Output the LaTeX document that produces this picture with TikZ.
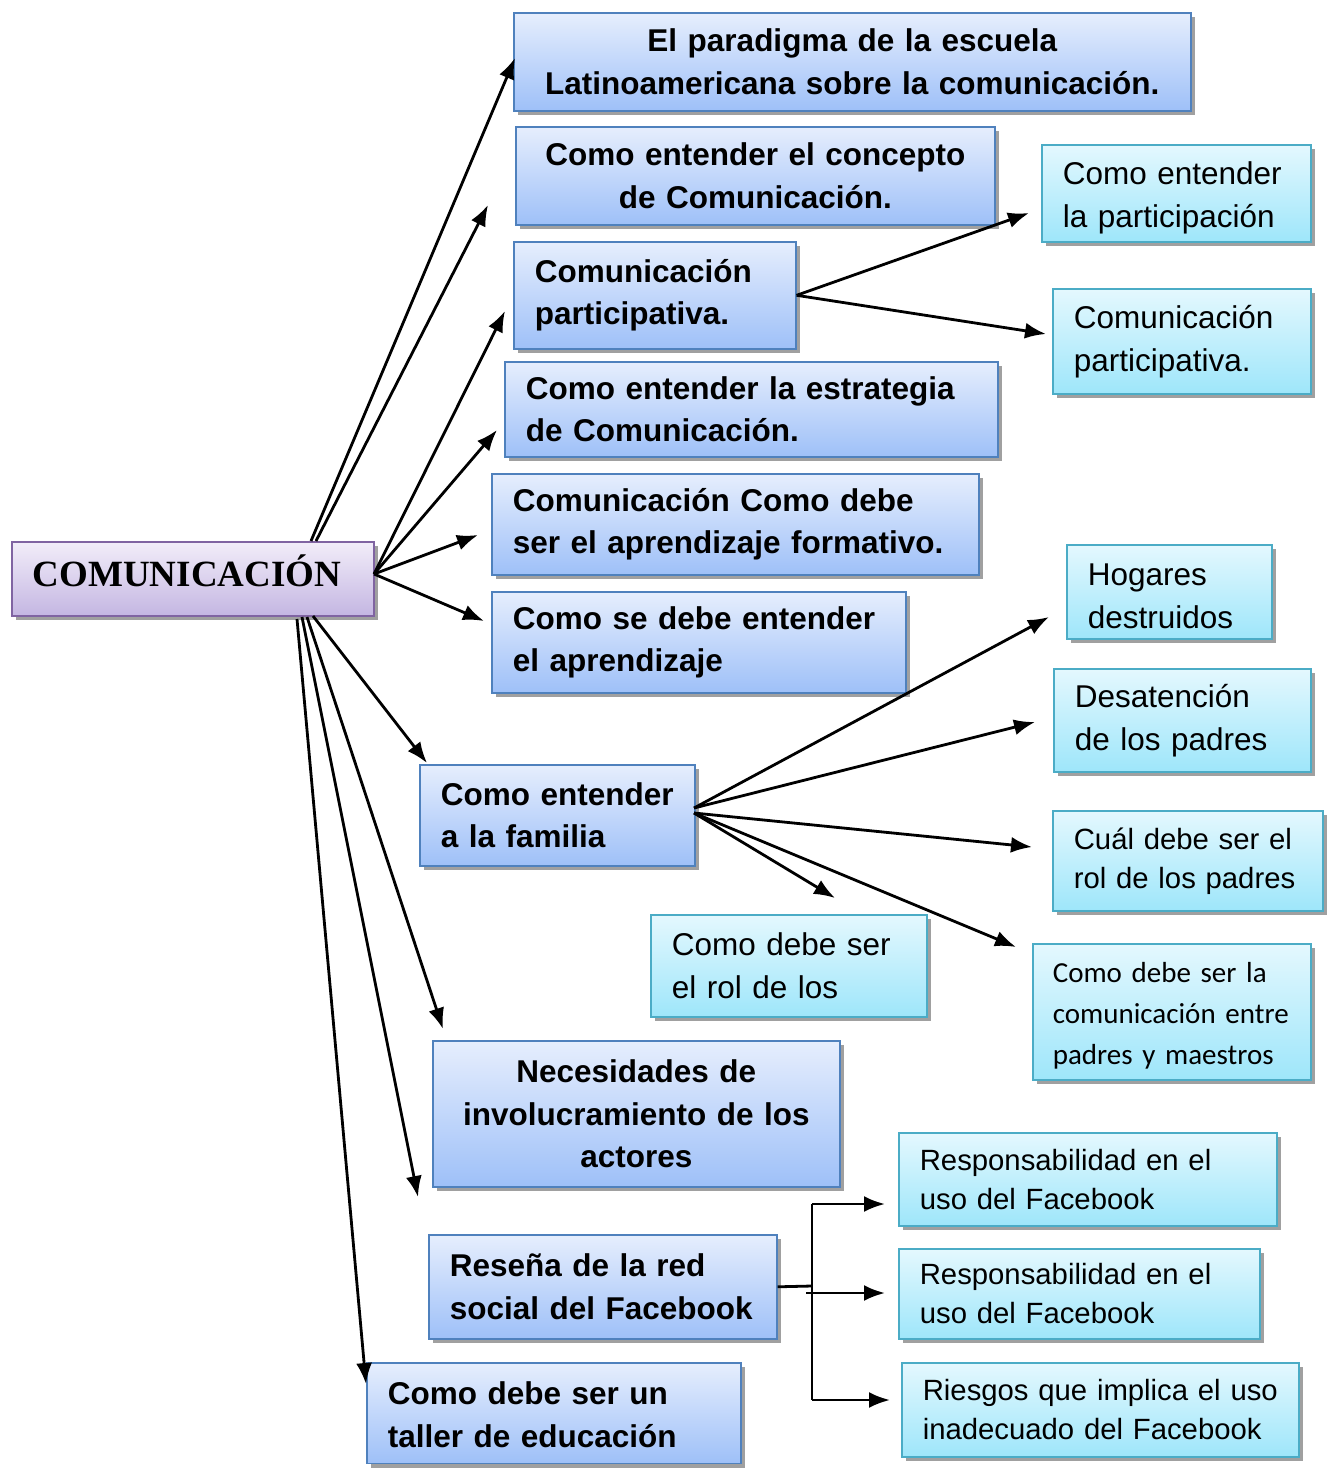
\documentclass[tikz,border=0pt]{standalone}
\usepackage{fontspec}
\setmainfont{Liberation Sans}
\newfontfamily\serifbold{Liberation Serif}
\newfontfamily\calibfont{Carlito}
\usetikzlibrary{shadows,arrows.meta}
\hyphenpenalty=10000
\exhyphenpenalty=10000
\definecolor{bTop}{RGB}{230,238,253}
\definecolor{bBot}{RGB}{158,192,248}
\definecolor{bBord}{RGB}{79,129,189}
\definecolor{cTop}{RGB}{228,248,254}
\definecolor{cBot}{RGB}{158,230,250}
\definecolor{cBord}{RGB}{75,172,198}
\definecolor{pTop}{RGB}{242,237,249}
\definecolor{pBot}{RGB}{196,182,226}
\definecolor{pBord}{RGB}{128,100,162}
\definecolor{shd}{RGB}{160,160,160}
\begin{document}
\begin{tikzpicture}[x=1pt,y=-1pt,
 box/.style={rectangle, anchor=north west, line width=1.6pt, inner ysep=0pt, inner xsep=21pt,
   drop shadow={shadow xshift=4pt,shadow yshift=-4pt,fill=shd,opacity=1}},
 bluebox/.style={box, draw=bBord, top color=bTop, bottom color=bBot, font=\bfseries\fontsize{31.5}{42.5}\selectfont},
 cyanbox/.style={box, draw=cBord, top color=cTop, bottom color=cBot, font=\fontsize{31.5}{43}\selectfont},
 cyansmall/.style={cyanbox, font=\fontsize{29.3}{39}\selectfont},
 arr/.style={line width=2.8pt, -{Latex[length=21pt,width=16pt]}},
 plainline/.style={line width=2.8pt}
]
\useasboundingbox (0,0) rectangle (1328,1473);

% central node
\node[box, draw=pBord, top color=pTop, bottom color=pBot, minimum width=362pt, minimum height=74pt,
  text width=320pt, align=left, text depth=16pt,
  font=\serifbold\bfseries\fontsize{37}{40}\selectfont] (comm) at (11,541) {COMUNICACIÓN};

% blue boxes
\node[bluebox, minimum width=677pt, minimum height=98pt, text width=635pt, align=center] (para) at (513,12) {El paradigma de la escuela\\Latinoamericana sobre la comunicación.};
\node[bluebox, minimum width=479pt, minimum height=98pt, text width=437pt, align=center] (conc) at (515,126) {Como entender el concepto\\de Comunicación.};
\node[bluebox, minimum width=282pt, minimum height=107pt, text width=240pt, align=left] (part) at (513,241) {Comunicación\\participativa.};
\node[bluebox, minimum width=493pt, minimum height=95pt, text width=451pt, align=left] (estr) at (504,361) {Como entender la estrategia\\de Comunicación.};
\node[bluebox, minimum width=487pt, minimum height=101pt, text width=445pt, align=left] (apre) at (491,473) {Comunicación Como debe\\ser el aprendizaje formativo.};
\node[bluebox, minimum width=414pt, minimum height=101pt, text width=372pt, align=left] (seap) at (491,591) {Como se debe entender\\el aprendizaje};
\node[bluebox, minimum width=275pt, minimum height=101pt, text width=233pt, align=left] (fam) at (419,764) {Como~entender\\a la familia};
\node[bluebox, minimum width=407pt, minimum height=146pt, text width=365pt, align=center] (nec) at (432,1040) {Necesidades de\\involucramiento de los\\actores};
\node[bluebox, minimum width=348pt, minimum height=104pt, text width=306pt, align=left] (res) at (428,1234) {Reseña de la red\\social~del~Facebook};
\node[bluebox, minimum width=374pt, text width=332pt, align=left, inner ysep=19pt, text depth=40pt] (tal) at (366,1362) {Como debe ser un\\taller de educación};

% cyan boxes
\node[cyanbox, text height=32pt, minimum width=269pt, minimum height=97pt, text width=227pt, align=left] (cpart) at (1041,144) {Como~entender\\la~participación};
\node[cyanbox, minimum width=258pt, minimum height=105pt, text width=216pt, align=left] (ccom) at (1052,288) {Comunicación\\participativa.};
\node[cyanbox, text height=31pt, minimum width=205pt, minimum height=94pt, text width=163pt, align=left] (hog) at (1066,544) {Hogares\\destruidos};
\node[cyanbox, minimum width=257pt, minimum height=103pt, text width=215pt, align=left] (des) at (1053,668) {Desatención\\de~los~padres};
\node[cyansmall, minimum width=270pt, minimum height=100pt, text width=228pt, align=left] (cual) at (1052,810) {Cuál~debe~ser~el\\rol~de~los~padres};
\node[cyanbox, minimum width=276pt, minimum height=102pt, text width=234pt, align=left] (rol) at (650,914) {Como~debe~ser\\el~rol~de~los};
\node[cyanbox, text height=29pt, font=\calibfont\fontsize{29}{41}\selectfont, inner xsep=20pt, minimum width=278pt, minimum height=136pt, text width=238pt, align=left] (cal) at (1032,943) {Como~debe~ser~la\\comunicación~entre\\padres~y~maestros};
\node[cyansmall, minimum width=378pt, minimum height=93pt, text width=336pt, align=left] (resp1) at (898,1132) {Responsabilidad~en~el\\uso~del~Facebook};
\node[cyansmall, minimum width=361pt, minimum height=90pt, text width=319pt, align=left] (resp2) at (898,1248) {Responsabilidad~en~el\\uso~del~Facebook};
\node[cyansmall, minimum width=397pt, minimum height=94pt, text width=355pt, align=left] (ries) at (901,1362) {Riesgos~que~implica~el~uso\\inadecuado~del~Facebook};

% start points on the central node
\coordinate (cN1) at (311,541);
\coordinate (cN2) at (316,541);
\coordinate (cE) at (374,574);
\coordinate (cS1) at (313,616);
\coordinate (cS2) at (307,617);
\coordinate (cS3) at (302,617);
\coordinate (cS4) at (297,619);
% free arrow ends
\coordinate (t1) at (515,58);
\coordinate (t2) at (488,205);
\coordinate (t3) at (505,311);
\coordinate (t4) at (497,430);
\coordinate (t5) at (478,535);
\coordinate (t6) at (484,621);
\coordinate (t7) at (427,763);
\coordinate (t8) at (443,1029);
\coordinate (t9) at (418,1197);
\coordinate (t10) at (366,1384);

\draw[arr] (cN1) -- (t1);
\draw[arr] (cN2) -- (t2);
\draw[arr] (cE) -- (t3);
\draw[arr] (cE) -- (t4);
\draw[arr] (cE) -- (t5);
\draw[arr] (cE) -- (t6);
\draw[arr] (cS1) -- (t7);
\draw[arr] (cS2) -- (t8);
\draw[arr] (cS3) -- (t9);
\draw[arr] (cS4) -- (t10);

% participativa branch
\coordinate (pA) at (1029,213);
\coordinate (pB) at (1046,334);
\draw[arr] (part.east) -- (pA);
\draw[arr] (part.east) -- (pB);

% familia branch
\coordinate (fA) at (694,808);
\coordinate (fB) at (694,813);
\coordinate (h1) at (1049,617);
\coordinate (h2) at (1035,722);
\coordinate (h3) at (1032,847);
\coordinate (h4) at (835,898);
\coordinate (h5) at (1016,947);
\draw[arr] (fA) -- (h1);
\draw[arr] (fA) -- (h2);
\draw[arr] (fB) -- (h3);
\draw[arr] (fB) -- (h4);
\draw[arr] (fB) -- (h5);

% facebook bracket
\coordinate (fbJ) at (812,1286);
\coordinate (fbT) at (812,1204);
\coordinate (fbB) at (812,1400);
\coordinate (fbM) at (806,1293);
\coordinate (r1) at (885,1204);
\coordinate (r2) at (885,1293);
\coordinate (r3) at (890,1400);
\draw[plainline] (res.east) -- (fbJ);
\draw[plainline] (fbT) -- (fbB);
\draw[arr] (fbT) -- (r1);
\draw[arr] (fbM) -- (r2);
\draw[arr] (fbB) -- (r3);
\end{tikzpicture}
\end{document}
